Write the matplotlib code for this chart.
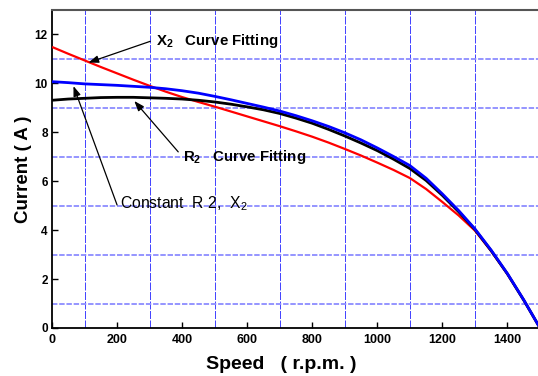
import matplotlib
matplotlib.use("Agg")
import matplotlib.pyplot as plt

plt.rcParams['font.family'] = ['Liberation Sans', 'DejaVu Sans']
plt.rcParams['mathtext.fontset'] = 'custom'
plt.rcParams['mathtext.rm'] = 'Liberation Sans'
plt.rcParams['mathtext.bf'] = 'Liberation Sans:bold'
plt.rcParams['mathtext.it'] = 'Liberation Sans'

# Data
speed = [0, 50, 100, 150, 200, 250, 300, 350, 400, 450, 500, 550, 600, 650, 700,
         750, 800, 850, 900, 950, 1000, 1050, 1100, 1150, 1200, 1250, 1300, 1350,
         1400, 1450, 1500]
i_x2_fit = [11.49, 11.21, 10.94, 10.67, 10.41, 10.15, 9.90, 9.66, 9.44, 9.24, 9.05,
            8.85, 8.65, 8.45, 8.25, 8.04, 7.82, 7.58, 7.32, 7.05, 6.76, 6.46, 6.13,
            5.68, 5.15, 4.60, 3.98, 3.14, 2.20, 1.14, 0.00]
i_r2_fit = [10.07, 10.03, 9.98, 9.95, 9.92, 9.88, 9.84, 9.78, 9.70, 9.60, 9.47,
            9.33, 9.18, 9.03, 8.87, 8.68, 8.47, 8.24, 7.98, 7.69, 7.36, 7.01, 6.64,
            6.12, 5.48, 4.80, 4.05, 3.18, 2.22, 1.15, 0.00]
i_const = [9.31, 9.36, 9.39, 9.42, 9.43, 9.43, 9.41, 9.39, 9.36, 9.31, 9.24,
           9.15, 9.04, 8.92, 8.77, 8.58, 8.37, 8.12, 7.85, 7.56, 7.25, 6.90, 6.52,
           6.03, 5.42, 4.75, 4.03, 3.16, 2.21, 1.14, 0.00]

xticks = [0, 200, 400, 600, 800, 1000, 1200, 1400]
yticks = [0, 2, 4, 6, 8, 10, 12]

fig = plt.figure(figsize=(5.38, 3.76), dpi=100)
ax = fig.add_axes([52/538, 1-328/376, (540-52)/538, (328-10)/376])

kw = dict(solid_joinstyle='round', solid_capstyle='butt')
ax.plot(speed, i_x2_fit, color='#ff0000', lw=1.6, zorder=3, **kw)
ax.plot(speed, i_const, color='#000000', lw=2.0, zorder=4, **kw)
ax.plot(speed, i_r2_fit, color='#0000ff', lw=2.0, zorder=5, **kw)

ax.set_xlim(0, 1500)
ax.set_ylim(0, 13)
ax.set_xticks(xticks)
ax.set_yticks(yticks)
# grid at odd positions
for gx in range(100, 1500, 200):
    ax.axvline(gx, color='#4646ff', lw=0.72, ls=(0, (8, 1.5)), zorder=1, snap=True)
for gy in range(1, 13, 2):
    ax.axhline(gy, color='#8c8cff', lw=1.3, ls=(0, (3, 1)), zorder=1, snap=True)

ax.tick_params(axis='both', direction='in', length=4, width=1, color='black')
ax.tick_params(axis='x', labelsize=9, pad=4)
ax.tick_params(axis='y', labelsize=8.5, pad=3)
for lab in ax.get_xticklabels() + ax.get_yticklabels():
    lab.set_fontweight('bold')

ax.spines['right'].set_visible(False)
ax.spines['top'].set_color('#555555')
ax.spines['top'].set_linewidth(1.5)
ax.spines['left'].set_linewidth(1.3)
ax.spines['bottom'].set_linewidth(1.3)

ax.set_xlabel('Speed   ( r.p.m. )', fontsize=14, fontweight='bold', labelpad=2)
ax.xaxis.set_label_coords(0.469, -0.088)
ax.set_ylabel('Current ( A )', fontsize=13.5, fontweight='bold', labelpad=2)

arrow = dict(arrowstyle='-|>,head_length=0.6,head_width=0.22', color='black', lw=0.9,
             shrinkA=0, shrinkB=0)
ax.annotate('', xy=(112, 10.85), xytext=(302, 11.72), arrowprops=arrow)
ax.text(320, 11.72, r'X$_{\mathbf{2}}$   Curve Fitting', fontsize=10.8, fontweight='bold',
        ha='left', va='center')
ax.annotate('', xy=(253, 9.28), xytext=(388, 7.2), arrowprops=arrow)
ax.text(402, 7.0, r'R$_{\mathbf{2}}$   Curve Fitting', fontsize=10.8, fontweight='bold',
        ha='left', va='center')
ax.annotate('', xy=(66, 9.89), xytext=(200, 5.03), arrowprops=arrow)
ax.text(209, 5.07, r'Constant  R 2,  X$_{2}$', fontsize=11.3,
        ha='left', va='center')

fig.savefig('out.png', dpi=100)
